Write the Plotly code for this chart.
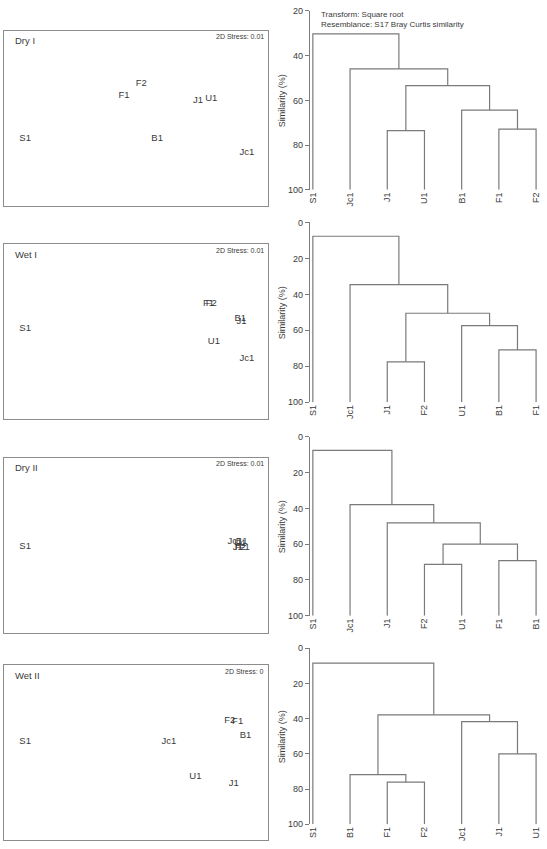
import plotly.graph_objects as go

W, H = 547, 849

# ---------------- MDS ordinations (relative 2D coordinates) ----------------
mds_labels = ["S1", "Jc1", "J1", "U1", "B1", "F1", "F2"]

dry1_x = [-0.84, 0.84, 0.47, 0.57, 0.16, -0.09, 0.04]
dry1_y = [-0.23, -0.39, 0.20, 0.22, -0.23, 0.26, 0.40]

wet1_x = [-0.84, 0.84, 0.80, 0.59, 0.79, 0.55, 0.57]
wet1_y = [0.03, -0.31, 0.11, -0.11, 0.15, 0.32, 0.32]

dry2_x = [-0.84, 0.75, 0.77, 0.79, 0.80, 0.82, 0.79]
dry2_y = [-0.02, 0.04, -0.03, 0.02, 0.04, -0.03, -0.03]

wet2_x = [-0.84, 0.25, 0.74, 0.45, 0.83, 0.77, 0.71]
wet2_y = [0.13, 0.12, -0.36, -0.28, 0.19, 0.35, 0.37]

panel_titles = ["Dry I", "Wet I", "Dry II", "Wet II"]
stress_texts = ["2D Stress: 0.01", "2D Stress: 0.01", "2D Stress: 0.01", "2D Stress: 0"]

# ---------------- Cluster dendrograms (leaf order + merges) ----------------
# merges reference leaf indices 0..6 and new clusters 7.. (in merge order)
dry1_leaves = ["S1", "Jc1", "J1", "U1", "B1", "F1", "F2"]
dry1_left = [5, 2, 4, 8, 1, 0]
dry1_right = [6, 3, 7, 9, 10, 11]
dry1_height = [72.9, 73.5, 64.4, 53.4, 45.9, 30.3]

wet1_leaves = ["S1", "Jc1", "J1", "F2", "U1", "B1", "F1"]
wet1_left = [5, 2, 4, 8, 1, 0]
wet1_right = [6, 3, 7, 9, 10, 11]
wet1_height = [70.9, 77.5, 57.4, 50.5, 34.6, 7.7]

dry2_leaves = ["S1", "Jc1", "J1", "F2", "U1", "F1", "B1"]
dry2_left = [5, 3, 8, 2, 1, 0]
dry2_right = [6, 4, 7, 9, 10, 11]
dry2_height = [69.2, 71.3, 60.0, 48.1, 37.9, 7.6]

wet2_leaves = ["S1", "B1", "F1", "F2", "Jc1", "J1", "U1"]
wet2_left = [2, 1, 5, 4, 8, 0]
wet2_right = [3, 7, 6, 9, 10, 11]
wet2_height = [76.1, 71.8, 60.0, 41.7, 37.8, 8.4]

sim_ticks_first = [20, 40, 60, 80, 100]
sim_ticks = [0, 20, 40, 60, 80, 100]

transform_text = "Transform: Square root<br>Resemblance: S17 Bray Curtis similarity"

# ---------------- helpers ----------------
FONT = "Liberation Sans, Arial, sans-serif"
TXT = "#3a3a3a"
LINE = "#7a7a7a"


def dendro_lines(n, left, right, height):
    xs = {i: float(i) for i in range(n)}
    hs = {i: 100.0 for i in range(n)}
    lx, ly = [], []
    for k, (a, b, h) in enumerate(zip(left, right, height)):
        lx += [xs[a], xs[a], xs[b], xs[b], None]
        ly += [hs[a], h, h, hs[b], None]
        xs[n + k] = (xs[a] + xs[b]) / 2.0
        hs[n + k] = h
    return lx, ly


def px_x(p):
    return p / W


def px_y(p):
    return 1 - p / H


mds_sets = [(dry1_x, dry1_y), (wet1_x, wet1_y), (dry2_x, dry2_y), (wet2_x, wet2_y)]
dendro_sets = [
    (dry1_leaves, dry1_left, dry1_right, dry1_height),
    (wet1_leaves, wet1_left, wet1_right, wet1_height),
    (dry2_leaves, dry2_left, dry2_right, dry2_height),
    (wet2_leaves, wet2_left, wet2_right, wet2_height),
]

# pixel layout (top, bottom) for each row
mds_box = [(26, 203), (242, 419), (458, 635), (668, 845)]
den_box = [(6, 187), (220, 402), (437, 618), (651, 829)]
y_ranges = [[100, 20], [100, 0], [100, 0], [100, 0]]

fig = go.Figure()
layout = dict(
    width=W, height=H, margin=dict(l=0, r=0, t=0, b=0),
    paper_bgcolor="white", plot_bgcolor="white", showlegend=False,
    font=dict(family=FONT, color=TXT),
)
annotations = []

for i in range(4):
    a = 2 * i + 1
    b = 2 * i + 2
    sa = "" if a == 1 else str(a)
    sb = str(b)
    mx, my = mds_sets[i]
    fig.add_trace(go.Scatter(
        x=mx, y=my, text=mds_labels, mode="text",
        textposition="middle center",
        textfont=dict(size=9.5, color=TXT, family=FONT),
        xaxis="x" + sa, yaxis="y" + sa, hoverinfo="skip",
    ))
    leaves, left, right, height = dendro_sets[i]
    lx, ly = dendro_lines(len(leaves), left, right, height)
    fig.add_trace(go.Scatter(
        x=lx, y=ly, mode="lines", line=dict(color=LINE, width=1.2),
        xaxis="x" + sb, yaxis="y" + sb, hoverinfo="skip",
    ))

    t, bt = mds_box[i]
    layout["xaxis" + sa] = dict(
        domain=[px_x(2), px_x(267)], range=[-1, 1], anchor="y" + sa,
        showgrid=False, zeroline=False, showticklabels=False, ticks="",
        showline=True, mirror=True, linecolor="#8c8c8c", linewidth=1.2,
    )
    layout["yaxis" + sa] = dict(
        domain=[px_y(bt), px_y(t)], range=[-1, 1], anchor="x" + sa,
        showgrid=False, zeroline=False, showticklabels=False, ticks="",
        showline=True, mirror=True, linecolor="#8c8c8c", linewidth=1.2,
    )
    dt, db = den_box[i]
    layout["xaxis" + sb] = dict(
        domain=[px_x(309), px_x(545)], range=[-0.08, 6.24], anchor="y" + sb,
        showgrid=False, zeroline=False, showline=False, ticks="",
        tickmode="array", tickvals=list(range(len(leaves))), ticktext=leaves,
        tickangle=-90, tickfont=dict(size=9, color=TXT, family=FONT),
    )
    layout["yaxis" + sb] = dict(
        domain=[px_y(db), px_y(dt)], range=y_ranges[i], anchor="x" + sb,
        showgrid=False, zeroline=False, showline=True, linecolor=LINE,
        linewidth=1.2, ticks="outside", ticklen=4, tickcolor=LINE,
        tickwidth=1.2,
        tickmode="array", tickvals=sim_ticks_first if i == 0 else sim_ticks,
        tickfont=dict(size=9, color=TXT, family=FONT),
    )
    # MDS panel title and stress
    annotations.append(dict(
        text=panel_titles[i], xref="paper", yref="paper",
        x=px_x(11), y=px_y(t + 10), xanchor="left", yanchor="middle",
        showarrow=False, font=dict(size=9.5, color=TXT, family=FONT),
    ))
    annotations.append(dict(
        text=stress_texts[i], xref="paper", yref="paper",
        x=px_x(265), y=px_y(t + 6), xanchor="right", yanchor="middle",
        showarrow=False, font=dict(size=7, color=TXT, family=FONT),
    ))
    annotations.append(dict(
        text="Similarity (%)", xref="paper", yref="paper",
        x=px_x(281), y=px_y((dt + db) / 2), xanchor="center", yanchor="middle",
        textangle=-90, showarrow=False,
        font=dict(size=9, color=TXT, family=FONT),
    ))

annotations.append(dict(
    text=transform_text, xref="paper", yref="paper",
    x=px_x(318), y=px_y(3), xanchor="left", yanchor="top", align="left",
    showarrow=False, font=dict(size=8, color=TXT, family=FONT),
))
layout["annotations"] = annotations
fig.update_layout(**layout)
fig.write_html("out.html")
